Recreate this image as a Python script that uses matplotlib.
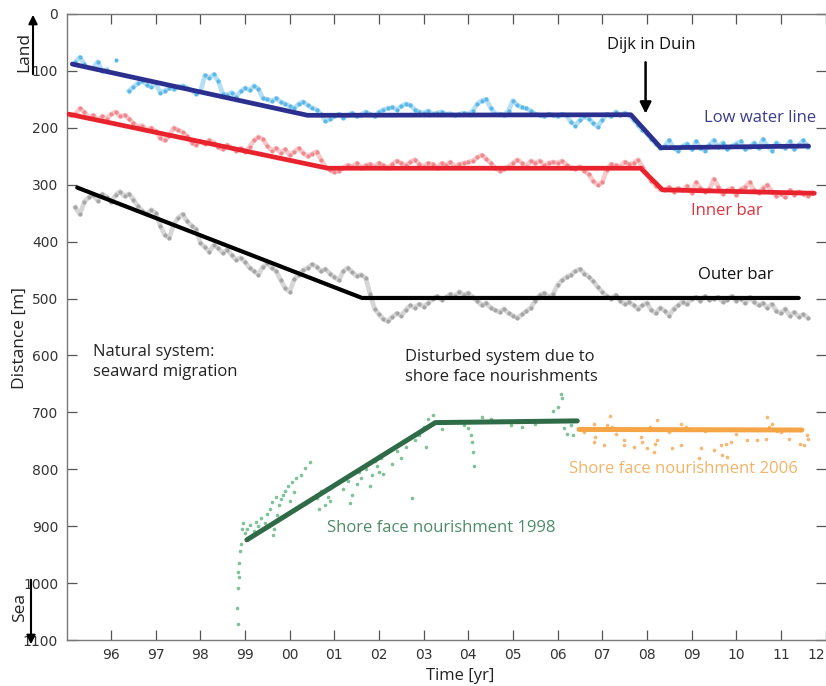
import numpy as np
import matplotlib
matplotlib.use("Agg")
import matplotlib.pyplot as plt

nan = np.nan

# cross-shore positions sampled every 0.1 yr, one row per year (1995.0 .. 2011.9)
years_grid = np.round(np.arange(1995.0, 2012.0, 0.1), 1)

low_water = [
    nan, nan, 85, 76, 88, nan, 95, 84, 100, 98,          # 1995
    nan, 81, nan, nan, 135, 128, 122, 118, 124, 128,     # 1996
    122, 138, 135, 130, 132, 128, 126, 130, 134, 140,    # 1997
    136, 108, 112, 106, 118, 140, 142, 138, 145, 136,    # 1998
    130, 134, 126, 132, 148, 150, 153, 148, 155, 158,    # 1999
    162, 166, 158, 154, 160, 165, 168, 176, 188, 185,    # 2000
    180, 176, 182, 178, 174, 180, 177, 172, 176, 180,    # 2001
    172, 168, 166, 164, 168, 162, 158, 160, 168, 172,    # 2002
    174, 170, 176, 174, 172, 176, 175, 178, 176, 174,    # 2003
    176, 170, 158, 152, 150, 165, 175, 176, 178, 170,    # 2004
    152, 160, 164, 166, 170, 176, 178, 180, 176, 178,    # 2005
    180, 176, 178, 190, 196, 186, 180, 184, 192, 198,    # 2006
    186, 176, 180, 172, 178, 174, 178, 186, 195, 204,    # 2007
    210, 220, 228, 236, 232, 222, 236, 240, 232, 228,    # 2008
    238, 224, 236, 240, 230, 222, 234, 226, 238, 232,    # 2009
    228, 224, 238, 234, 226, 236, 220, 232, 240, 226,    # 2010
    232, 236, 224, 238, 230, 222, 234, nan, nan, nan,    # 2011
]

inner_bar = [
    nan, 178, 176, 166, 172, 182, 178, 186, 180, 184,    # 1995
    176, 172, 180, 178, 184, 192, 198, 196, 204, 200,    # 1996
    206, 218, 222, 214, 200, 204, 208, 214, 226, 230,    # 1997
    224, 228, 222, 226, 234, 238, 230, 236, 240, 236,    # 1998
    242, 234, 222, 216, 220, 232, 240, 236, 244, 238,    # 1999
    248, 242, 236, 244, 250, 246, 242, 256, 268, 274,    # 2000
    278, 276, 270, 266, 268, 262, 270, 266, 264, 268,    # 2001
    262, 266, 270, 264, 258, 262, 266, 260, 256, 264,    # 2002
    268, 262, 264, 270, 262, 266, 260, 268, 264, 262,    # 2003
    260, 258, 252, 248, 254, 262, 270, 276, 272, 268,    # 2004
    262, 256, 262, 268, 258, 262, 258, 266, 262, 260,    # 2005
    262, 258, 266, 270, 272, 268, 276, 282, 294, 300,    # 2006
    296, 274, 264, 266, 268, 260, 264, 262, 256, 268,    # 2007
    282, 294, 302, 308, 310, 304, 312, 306, 310, 302,    # 2008
    314, 296, 306, 312, 308, 290, 304, 316, 310, 306,    # 2009
    318, 308, 304, 296, 310, 314, 306, 300, 312, 320,    # 2010
    316, 322, 310, 318, 312, 316, 320, 314, nan, nan,    # 2011
]

outer_bar = [
    nan, nan, 340, 352, 330, 322, 318, 328, 316, 322,    # 1995
    330, 318, 312, 320, 316, 326, 338, 346, 352, 344,    # 1996
    350, 372, 388, 394, 370, 358, 352, 364, 372, 378,    # 1997
    402, 410, 418, 406, 412, 420, 414, 424, 432, 428,    # 1998
    436, 446, 452, 458, 444, 438, 446, 452, 468, 482,    # 1999
    488, 466, 458, 450, 446, 440, 444, 452, 448, 456,    # 2000
    462, 468, 452, 446, 454, 460, 458, 464, 492, 518,    # 2001
    528, 536, 540, 532, 526, 530, 520, 512, 516, 510,    # 2002
    514, 508, 500, 496, 502, 498, 492, 496, 488, 494,    # 2003
    490, 498, 504, 512, 508, 516, 520, 524, 518, 526,    # 2004
    530, 534, 528, 522, 516, 504, 494, 490, 498, 492,    # 2005
    476, 468, 462, 458, 452, 448, 456, 462, 470, 480,    # 2006
    488, 496, 500, 494, 504, 510, 506, 512, 518, 512,    # 2007
    508, 520, 526, 516, 522, 530, 518, 512, 506, 510,    # 2008
    500, 498, 504, 496, 502, 500, 498, 506, 502, 496,    # 2009
    504, 500, 508, 498, 506, 512, 508, 516, 510, 522,    # 2010
    526, 518, 530, 524, 532, 528, 534, nan, nan, nan,    # 2011
]

# nourishment 1998 survey points
nour98_t = [1998.85, 1998.82, 1998.84, 1998.86, 1998.85, 1998.87, 1998.88, 1998.90, 1998.92, 1998.95,
            1999.00, 1999.05, 1999.10, 1999.15, 1999.20, 1999.25, 1999.30, 1999.35, 1999.45, 1999.50,
            1999.55, 1999.60, 1999.62, 1999.65, 1999.70, 1999.72, 1999.75, 1999.80, 1999.85, 1999.90,
            1999.95, 2000.00, 2000.05, 2000.10, 2000.15, 2000.25, 2000.35, 2000.45, 2000.60, 2000.65,
            2000.70, 2000.80, 2000.85, 2000.90, 2001.20, 2001.30, 2001.35, 2001.40, 2001.50, 2001.55,
            2001.60, 2001.70, 2001.75, 2001.80, 2001.85, 2001.90, 2001.95, 2002.00, 2002.05, 2002.10,
            2002.30, 2002.40, 2002.50, 2002.60, 2002.74, 2002.80, 2002.90, 2003.00, 2003.05, 2003.10,
            2003.20, 2003.40, 2003.80, 2003.90, 2004.00, 2004.05, 2004.08, 2004.10, 2004.12, 2004.30,
            2004.50, 2004.95, 2005.20, 2005.50, 2005.90, 2006.00, 2006.07, 2006.10, 2006.15, 2006.20,
            2006.30, 2006.35]
nour98_v = [1072, 1044, 1009, 990, 980, 965, 944, 932, 905, 895,
            912, 905, 898, 915, 908, 892, 900, 885, 895, 878,
            870, 858, 915, 905, 848, 880, 862, 852, 845, 838,
            830, 855, 822, 840, 815, 810, 798, 788, 850, 870,
            838, 862, 848, 855, 835, 820, 860, 845, 825, 805,
            815, 800, 790, 830, 810, 785, 795, 805, 780, 808,
            790, 768, 780, 760, 851, 748, 740, 725, 760, 712,
            705, 730, 715, 722, 728, 740, 752, 770, 795, 708,
            712, 722, 725, 720, 698, 690, 668, 675, 728, 738,
            722, 740]

# nourishment 2006 survey points
nour06_t = [2006.60, 2006.81, 2006.84, 2006.81, 2007.03, 2006.96, 2007.10, 2007.18, 2007.21, 2007.30,
            2007.48, 2007.48, 2007.71, 2007.78, 2007.86, 2007.89, 2008.01, 2008.08, 2008.18, 2008.23,
            2008.23, 2008.16, 2008.50, 2008.57, 2008.76, 2008.87, 2008.76, 2009.21, 2009.17, 2009.30,
            2009.50, 2009.66, 2009.77, 2009.69, 2009.80, 2009.88, 2010.00, 2010.25, 2010.36, 2010.47,
            2010.66, 2010.70, 2010.74, 2010.81, 2010.92, 2011.00, 2011.18, 2011.44, 2011.51, 2011.59,
            2011.60]
nour06_v = [734, 720, 743, 752, 758, 729, 723, 706, 726, 738,
            749, 758, 761, 729, 743, 752, 763, 726, 755, 713,
            749, 769, 735, 763, 720, 725, 758, 763, 781, 733,
            766, 758, 755, 775, 778, 752, 738, 748, 729, 748,
            746, 708, 726, 720, 732, 734, 746, 755, 758, 740,
            746]

# fitted trend lines (breakpoints)
lw_t, lw_v = [1995.13, 2000.40, 2007.64, 2008.31, 2011.62], [88, 178, 177, 235, 232]
ib_t, ib_v = [1995.05, 2000.85, 2007.86, 2008.35, 2011.75], [176, 271, 271, 309, 315]
ob_t, ob_v = [1995.24, 2001.62, 2011.40], [305, 499, 499]
n98_t, n98_v = [1999.04, 2003.26, 2006.44], [924, 718, 715]
n06_t, n06_v = [2006.48, 2011.47], [730, 731]

xtick_years = list(range(1996, 2013))
xtick_labels = ["96", "97", "98", "99", "00", "01", "02", "03", "04",
                "05", "06", "07", "08", "09", "10", "11", "12"]
ytick_vals = list(range(0, 1200, 100))

txt_font = ["Open Sans", "DejaVu Sans"]
tick_font = ["Liberation Sans Narrow", "DejaVu Sans"]

W, H = 826, 686
fig = plt.figure(figsize=(W / 100, H / 100), dpi=100)
ax = fig.add_axes([66.5 / W, 1 - 640 / H, (825.5 - 66.5) / W, (640 - 14) / H])


def band(values, dot, lw=3.4):
    v = np.array(values, dtype=float)
    ax.plot(years_grid, v, '-', color=dot, lw=lw, alpha=0.45, zorder=2)
    ax.plot(years_grid, v, 'o', color=dot, ms=3.0, mew=0, zorder=2)


band(low_water, "#5BB8E8")
band(inner_bar, "#F0898D")
band(outer_bar, "#A6A6A6")
ax.plot(nour98_t, nour98_v, 'o', color="#7FC29A", ms=2.6, mew=0, zorder=2)
ax.plot(nour06_t, nour06_v, 'o', color="#F5B872", ms=2.6, mew=0, zorder=2)

ax.plot(lw_t, lw_v, color="#2B2F8F", lw=3.4, solid_capstyle='round', zorder=3)
ax.plot(ib_t, ib_v, color="#E8232D", lw=3.4, solid_capstyle='round', zorder=3)
ax.plot(ob_t, ob_v, color="black", lw=3.0, solid_capstyle='round', zorder=3)
ax.plot(n98_t, n98_v, color="#2F6B47", lw=3.6, solid_capstyle='round', zorder=3)
ax.plot(n06_t, n06_v, color="#F5A545", lw=3.6, solid_capstyle='round', zorder=3)

ax.set_xlim(1995.0, 2012.0)
ax.set_ylim(1100, 0)
ax.set_xticks(xtick_years)
ax.set_xticklabels(xtick_labels)
ax.set_yticks(ytick_vals)
ax.tick_params(direction='in', length=7, width=0.9, color="#555555",
               top=True, right=True, labelsize=10, pad=6)
for lab in ax.get_xticklabels() + ax.get_yticklabels():
    lab.set_family(tick_font)
    lab.set_color("#333333")
# last year label sits on the figure edge
ax.get_xticklabels()[-1].set_ha('right')
for s in ["left", "bottom", "top"]:
    ax.spines[s].set_color("#777777")
    ax.spines[s].set_linewidth(1.0)
ax.spines["right"].set_visible(False)

# labels inside the axes
ax.text(2008.09, 54, "Dijk in Duin", ha='center', va='center', fontsize=12,
        family=txt_font, color="#111111")
ax.annotate("", xy=(2007.97, 180), xytext=(2007.97, 80),
            arrowprops=dict(arrowstyle='-|>', color='black', lw=1.8, mutation_scale=17))
ax.text(2009.27, 183, "Low water line", ha='left', va='center', fontsize=12,
        family=txt_font, color="#3B3C8E")
ax.text(2008.98, 346, "Inner bar", ha='left', va='center', fontsize=12,
        family=txt_font, color="#E0343D")
ax.text(2009.14, 459, "Outer bar", ha='left', va='center', fontsize=12,
        family=txt_font, color="#111111")
ax.text(1995.6, 612, "Natural system:\nseaward migration", ha='left', va='center',
        fontsize=12, family=txt_font, color="#222222", linespacing=1.3)
ax.text(2002.59, 620, "Disturbed system due to\nshore face nourishments", ha='left',
        va='center', fontsize=12, family=txt_font, color="#222222", linespacing=1.3)
ax.text(2000.84, 903, "Shore face nourishment 1998", ha='left', va='center',
        fontsize=12, family=txt_font, color="#4E8C68")
ax.text(2006.25, 800, "Shore face nourishment 2006", ha='left', va='center',
        fontsize=12, family=txt_font, color="#F2B468")

# axis titles and land/sea markers
fig.text(20 / W, 1 - 338 / H, "Distance [m]", rotation=90, ha='center', va='center',
         fontsize=12.5, family=txt_font, color="#222222")
fig.text(460 / W, 1 - 676 / H, "Time [yr]", ha='center', va='center',
         fontsize=12, family=txt_font, color="#222222")
fig.text(24 / W, 1 - 52 / H, "Land", rotation=90, ha='center', va='center',
         fontsize=12.5, family=txt_font, color="#222222")
fig.text(20 / W, 1 - 607 / H, "Sea", rotation=90, ha='center', va='center',
         fontsize=12.5, family=txt_font, color="#222222")
ax.annotate("", xy=(33 / W, 1 - 12 / H), xytext=(33 / W, 1 - 77 / H),
            xycoords='figure fraction', textcoords='figure fraction',
            arrowprops=dict(arrowstyle='-|>', color='black', lw=1.5, mutation_scale=13))
ax.annotate("", xy=(31 / W, 1 - 647 / H), xytext=(31 / W, 1 - 577 / H),
            xycoords='figure fraction', textcoords='figure fraction',
            arrowprops=dict(arrowstyle='-|>', color='black', lw=1.5, mutation_scale=13))

fig.savefig("out.png", dpi=100)
